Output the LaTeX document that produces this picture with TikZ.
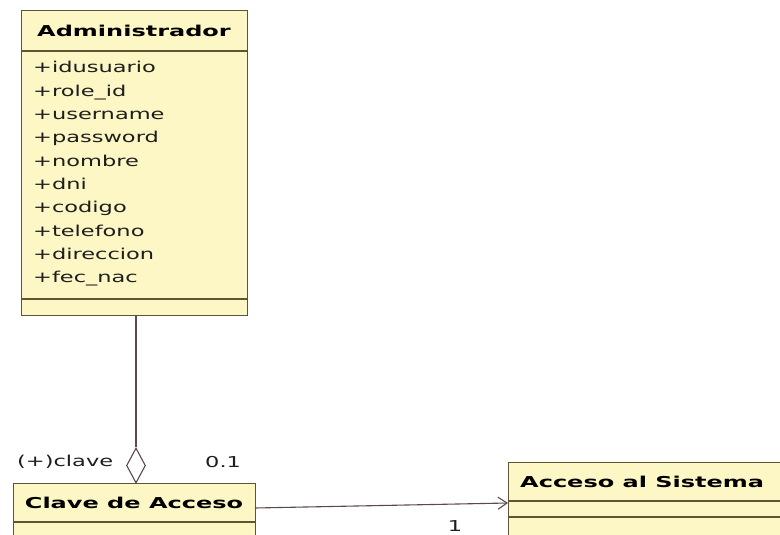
\documentclass[tikz,border=0pt]{standalone}
\usepackage{fontspec}
\usetikzlibrary{shapes.geometric,arrows.meta}
\newfontfamily\umlreg[FakeStretch=1.5]{DejaVu Sans}
\newfontfamily\umlbold[FakeStretch=1.6]{DejaVu Sans Bold}
\definecolor{classfill}{RGB}{252,247,196}
\definecolor{classline}{RGB}{95,84,52}
\definecolor{linkline}{RGB}{92,74,74}
\definecolor{labeltext}{RGB}{30,30,30}
\tikzset{
  classbox/.style={draw=classline, fill=classfill, line width=1.1pt, rectangle,
    inner sep=0pt, anchor=north west},
  classname/.style={font=\umlbold\fontsize{15}{15}\selectfont, text=black, inner sep=0pt},
  attr/.style={font=\umlreg\fontsize{15}{15}\selectfont, text=labeltext, inner sep=0pt, anchor=base west},
  rolelabel/.style={font=\umlreg\fontsize{15}{15}\selectfont, text=labeltext, inner sep=0pt},
  sepline/.style={draw=classline, line width=1.1pt},
  link/.style={draw=linkline, line width=1.1pt},
}
\begin{document}
\begin{tikzpicture}[x=1pt,y=-1pt]
\useasboundingbox (0,0) rectangle (780,535);
\fill[white] (0,0) rectangle (780,535);
\clip (0,0) rectangle (780,535);

% Administrador class
\node[classbox, minimum width=226pt, minimum height=305pt] (admin) at (21,10) {};
\draw[sepline] (21,51) -- (247,51);
\draw[sepline] (21,299) -- (247,299);
\node[classname] (admintitle) at (134,31) {Administrador};
\foreach \a [count=\i from 0] in {+idusuario,+role\_id,+username,+password,+nombre,+dni,+codigo,+telefono,+direccion,+fec\_nac}
  \node[attr] (attr\i) at (33,{73+23.33*\i}) {\a};

% Clave de Acceso class
\node[classbox, minimum width=242pt, minimum height=70pt] (clave) at (13,483) {};
\draw[sepline] (13,522) -- (255,522);
\node[classname] (clavetitle) at (134,503) {Clave de Acceso};

% Acceso al Sistema class
\node[classbox, minimum width=290pt, minimum height=90pt] (acceso) at (508,462) {};
\draw[sepline] (508,501) -- (798,501);
\draw[sepline] (508,517) -- (798,517);
\node[classname, anchor=west] (accesotitle) at (520,482) {Acceso al Sistema};

% aggregation: Administrador holds a Clave de Acceso
\node[diamond, draw=linkline, fill=white, line width=1.1pt, inner sep=0pt,
      minimum width=19pt, minimum height=35pt] (agg) at (136,465.5) {};
\draw[link] (admin.south -| agg) -- (agg.north);
\node[rolelabel, anchor=west] (rolename) at (17,462) {(+)clave};
\node[rolelabel, anchor=west] (mult01) at (205,462) {0.1};

% navigable association towards Acceso al Sistema
\coordinate (cstart) at (255,508);
\coordinate (cend) at (508,503);
\draw[link, -{Straight Barb[length=9pt,width=12pt]}] (cstart) -- (cend);
\node[rolelabel] (mult1) at (455,526) {1};
\end{tikzpicture}
\end{document}
